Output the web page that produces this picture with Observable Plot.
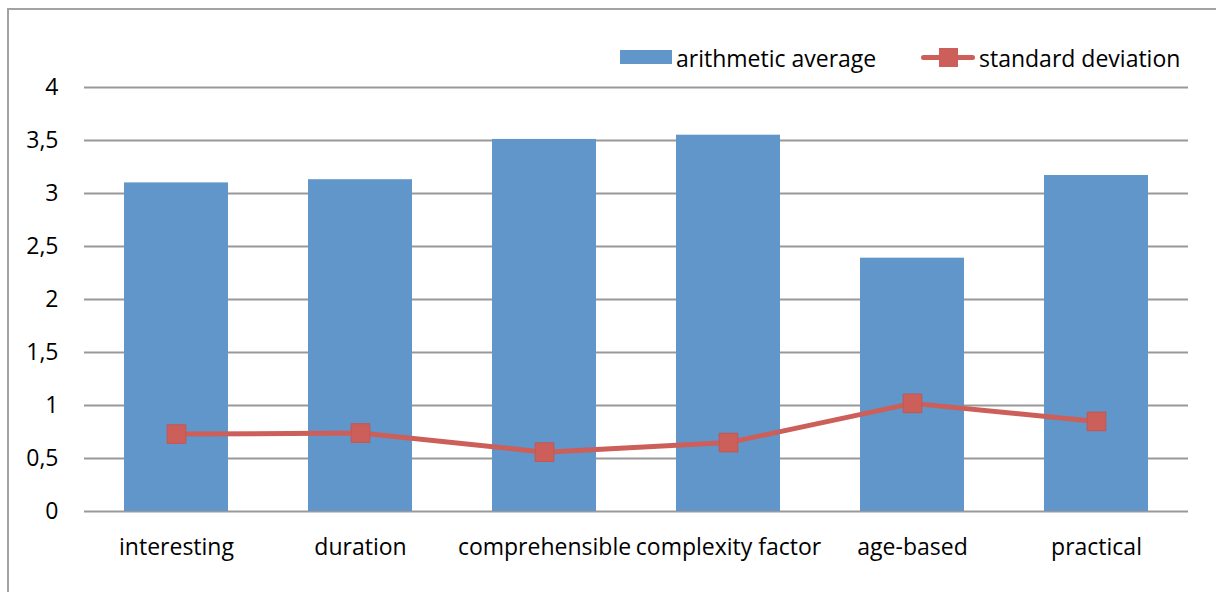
<!DOCTYPE html>
<html>
<head>
<meta charset="utf-8">
<script src="https://cdn.jsdelivr.net/npm/d3@7"></script>
<script src="https://cdn.jsdelivr.net/npm/@observablehq/plot@0.6"></script>
<style>
  html, body { margin: 0; padding: 0; background: #fff; overflow: hidden; }
  #wrap { position: relative; width: 1216px; height: 592px; overflow: hidden; font-family: "Open Sans", sans-serif; }
  #frame { position: absolute; left: 7px; top: 8px; width: 1400px; height: 800px; border: 2px solid #a3a3a3; box-sizing: border-box; }
  #chart { position: absolute; left: 0; top: 0; }
  .leg { position: absolute; font-size: 23px; color: #000; line-height: 1; white-space: nowrap; }
</style>
</head>
<body>
<div id="wrap">
  <div id="frame"></div>
  <div id="chart"></div>
  <div id="legend"></div>
</div>
<script>
const categories = ["interesting", "duration", "comprehensible", "complexity factor", "age-based", "practical"];
const averages = [3.10, 3.13, 3.51, 3.55, 2.39, 3.17];
const deviations = [0.73, 0.74, 0.56, 0.65, 1.02, 0.85];
const yTicks = [0, 0.5, 1, 1.5, 2, 2.5, 3, 3.5, 4];
const seriesNames = ["arithmetic average", "standard deviation"];

const barColor = "#6096c9";
const lineColor = "#cd5f5a";

const data = categories.map((c, i) => ({cat: c, avg: averages[i], sd: deviations[i]}));

const chart = Plot.plot({
  width: 1216,
  height: 592,
  marginLeft: 84,
  marginRight: 28,
  marginTop: 87,
  marginBottom: 81,
  style: {fontFamily: "'Open Sans', sans-serif", fontSize: "23px", color: "#000", background: "transparent"},
  x: {domain: categories, paddingInner: 0.435, paddingOuter: 0.215, label: null},
  y: {domain: [0, 4], label: null},
  marks: [
    Plot.gridY(yTicks, {stroke: "#999", strokeOpacity: 1, strokeWidth: 2}),
    Plot.barY(data, {x: "cat", y: "avg", fill: barColor}),
    Plot.line(data, {x: "cat", y: "sd", stroke: lineColor, strokeWidth: 5}),
    Plot.dot(data, {x: "cat", y: "sd", symbol: "square", r: 10.5, fill: lineColor, stroke: "#c55550", strokeWidth: 1}),
    Plot.axisY(yTicks, {tickSize: 0, tickPadding: 26, tickFormat: d => String(d).replace(".", ","), fontSize: 23, label: null}),
    Plot.axisX({tickSize: 0, tickPadding: 27, fontSize: 23, label: null})
  ]
});
document.getElementById("chart").appendChild(chart);

const legend = document.getElementById("legend");
legend.innerHTML = `
  <div style="position:absolute;left:620px;top:50px;width:52px;height:14px;background:${barColor}"></div>
  <div class="leg" style="left:676px;top:47px">${seriesNames[0]}</div>
  <div style="position:absolute;left:921px;top:55px;width:54px;height:5px;border-radius:3px;background:${lineColor}"></div>
  <div style="position:absolute;left:939px;top:48px;width:19px;height:19px;background:${lineColor}"></div>
  <div class="leg" style="left:979px;top:47px">${seriesNames[1]}</div>
`;
</script>
</body>
</html>
